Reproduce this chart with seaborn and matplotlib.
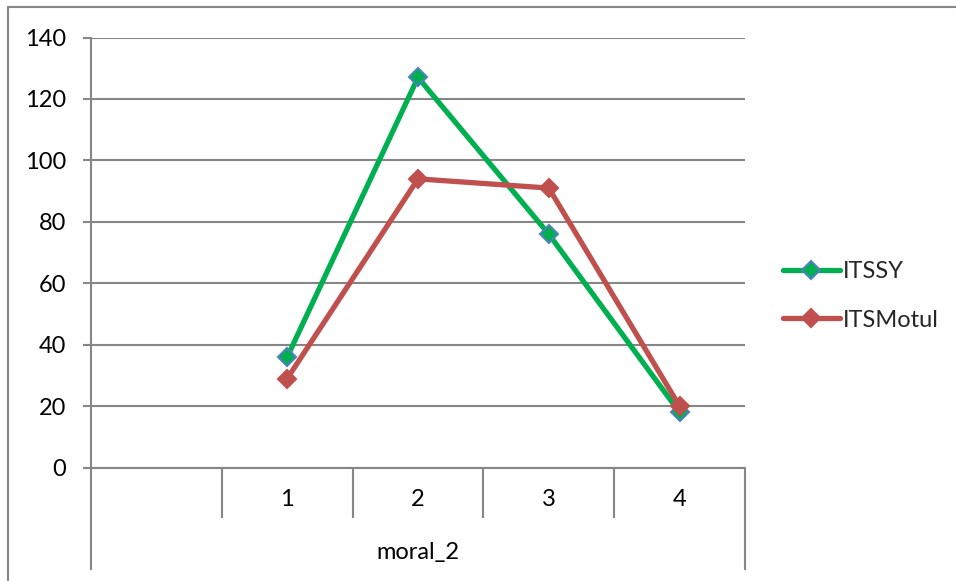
import matplotlib
matplotlib.use("Agg")
import matplotlib.pyplot as plt
import matplotlib.transforms as mtransforms
from matplotlib.patches import Rectangle
import seaborn as sns
import pandas as pd

# ---- data ----
categories = ["1", "2", "3", "4"]
itssy = [36, 127, 76, 18]
itsmotul = [29, 94, 91, 20]
series_names = ["ITSSY", "ITSMotul"]
axis_title = "moral_2"
y_ticks = [0, 20, 40, 60, 80, 100, 120, 140]

sns.set_theme(style="white")
plt.rcParams['font.family'] = ['Lato', 'DejaVu Sans']

W, H, DPI = 956, 581, 100
FS = 17
fig = plt.figure(figsize=(W / DPI, H / DPI), dpi=DPI)
ax_left, ax_right = 91 / W, 745 / W
ax_top, ax_bot = 1 - 37.5 / H, 1 - 467.7 / H
ax = fig.add_axes([ax_left, ax_bot, ax_right - ax_left, ax_top - ax_bot])

grey = "#868686"
green = "#00B050"
red = "#C0504D"
blue = "#4F81BD"

# Excel category axis with one empty leading slot
xpos = [i + 1 for i in range(len(categories))]
df = pd.DataFrame({"x": xpos * 2,
                   "value": itssy + itsmotul,
                   "series": [series_names[0]] * len(categories) + [series_names[1]] * len(categories)})

sns.lineplot(data=df[df.series == series_names[0]], x="x", y="value", ax=ax,
             color=green, lw=3.8, marker="D", markersize=9.5, markerfacecolor=green,
             markeredgecolor=blue, markeredgewidth=1.5, label=series_names[0], zorder=4)
sns.lineplot(data=df[df.series == series_names[1]], x="x", y="value", ax=ax,
             color=red, lw=3.8, marker="D", markersize=9.5, markerfacecolor=red,
             markeredgecolor=red, markeredgewidth=1.5, label=series_names[1], zorder=5)

n_slots = len(categories) + 1
ax.set_xlim(-0.5, n_slots - 0.5)
ax.set_ylim(0, 140)
ax.set_yticks(y_ticks)
ax.yaxis.grid(True, color=grey, lw=1.5)
ax.xaxis.grid(False)
for s in ["top", "right"]:
    ax.spines[s].set_visible(False)
ax.spines["left"].set_color(grey)
ax.spines["left"].set_linewidth(1.5)
ax.spines["bottom"].set_color(grey)
ax.spines["bottom"].set_linewidth(1.5)

ax.tick_params(axis="y", which="major", length=6, width=1.5, color=grey, pad=12,
               labelsize=FS, labelcolor="black", left=True)
ax.set_xticks(xpos)
ax.set_xticklabels(categories)
ax.tick_params(axis="x", length=0, pad=15, labelsize=FS, labelcolor="black")
ax.set_ylabel("")

# category separators and extended outer lines below the axis
trans = mtransforms.blended_transform_factory(ax.transData, fig.transFigure)
sep_bottom = 1 - 518 / H
outer_bottom = 1 - 570 / H
for i in range(1, n_slots):
    ax.plot([i - 0.5, i - 0.5], [ax_bot, sep_bottom], transform=trans, color=grey,
            lw=1.5, clip_on=False, solid_capstyle="butt")
for xv in [-0.5, n_slots - 0.5]:
    ax.plot([xv, xv], [ax_bot, outer_bottom], transform=trans, color=grey,
            lw=1.5, clip_on=False, solid_capstyle="butt")

ax.set_xlabel(axis_title, fontsize=FS, color="black", va="center")
ax.xaxis.set_label_coords(0.5, (467.7 - 553) / 430.2)

# legend
leg = ax.legend(loc="center left", bbox_to_anchor=(783 / W, 1 - 296 / H),
                bbox_transform=fig.transFigure, frameon=False, fontsize=FS,
                handlelength=2.4, handletextpad=0.15, labelspacing=1.15,
                borderpad=0, borderaxespad=0)

# outer chart frame
fig.patches.append(Rectangle((8 / W, 1 - 590 / H), 1.2, 583 / H, transform=fig.transFigure,
                             fill=False, edgecolor=grey, lw=1.5))

fig.savefig("out.png", dpi=DPI)
